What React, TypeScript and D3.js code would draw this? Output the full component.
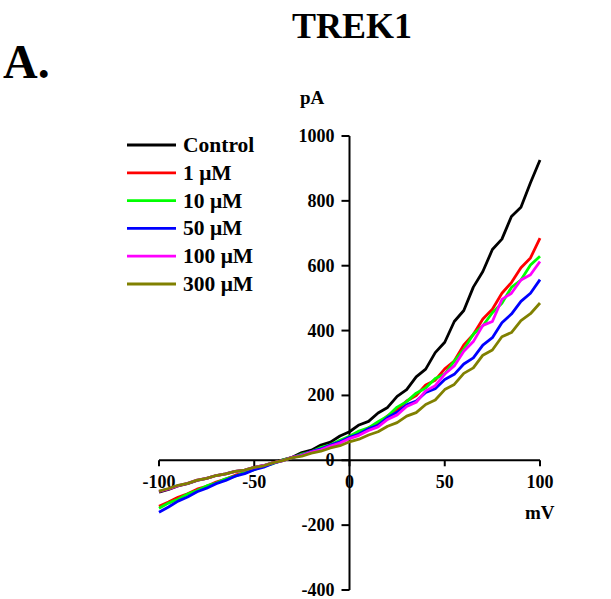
import React, { useEffect, useRef } from 'react';
import * as d3 from 'd3';

// membrane potential, mV (5 mV steps)
const voltages = d3.range(-100, 101, 5);

const seriesNames = ["Control", "1 \u03bcM", "10 \u03bcM", "50 \u03bcM", "100 \u03bcM", "300 \u03bcM"];
const seriesColors = ["#000000", "#ff0000", "#00ff00", "#0000ff", "#ff00ff", "#808000"];

// current, pA
const control = [-98, -90, -79, -72, -62, -56, -47, -42, -34, -30, -22, -16, -7, 1, 9, 24, 31, 47, 56, 75, 88, 109, 120, 146, 163, 197, 218, 257, 281, 332, 364, 428, 462, 534, 582, 650, 682, 752, 780, 856, 926];
const uM1 = [-142, -129, -114, -103, -89, -80, -67, -58, -46, -38, -27, -19, -8, 0, 9, 16, 27, 35, 48, 58, 73, 84, 100, 112, 137, 156, 183, 200, 232, 247, 282, 306, 356, 388, 436, 466, 515, 548, 594, 624, 685];
const uM10 = [-148, -132, -120, -104, -93, -79, -70, -57, -49, -37, -29, -17, -10, 1, 8, 19, 26, 39, 48, 62, 74, 90, 100, 119, 136, 164, 181, 207, 223, 252, 266, 306, 342, 389, 415, 455, 484, 533, 556, 602, 629];
const uM50 = [-160, -144, -126, -113, -97, -86, -72, -62, -49, -41, -29, -21, -9, -1, 9, 16, 27, 35, 47, 57, 71, 81, 97, 108, 132, 148, 171, 183, 209, 221, 249, 265, 297, 316, 355, 378, 424, 451, 490, 515, 557];
const uM100 = [-96, -88, -78, -71, -61, -56, -47, -42, -34, -30, -22, -16, -7, -1, 9, 15, 25, 32, 44, 53, 67, 77, 92, 103, 126, 140, 166, 179, 214, 230, 266, 291, 336, 366, 416, 428, 496, 515, 556, 572, 613];
const uM300 = [-95, -87, -77, -71, -61, -56, -47, -42, -34, -30, -22, -17, -7, -1, 8, 13, 22, 28, 38, 45, 57, 65, 78, 88, 105, 116, 136, 147, 172, 186, 218, 234, 268, 285, 324, 340, 381, 394, 431, 452, 485];

const xTicks = [-100, -50, 0, 50, 100];
const yTicks = [-400, -200, 0, 200, 400, 600, 800, 1000];

const FONT = '"Liberation Serif", "Times New Roman", Times, serif';

function App() {
  const ref = useRef<SVGSVGElement>(null);

  useEffect(() => {
    document.body.style.margin = "0";
    const svg = d3.select(ref.current);
    svg.selectAll("*").remove();

    const x = d3.scaleLinear().domain([-100, 100]).range([159, 540]);
    const y = d3.scaleLinear().domain([-400, 1000]).range([590, 136]);

    const all = [control, uM1, uM10, uM50, uM100, uM300];

    // titles
    svg.append("text")
      .attr("x", 352).attr("y", 38)
      .attr("text-anchor", "middle")
      .style("font", `bold 36px ${FONT}`)
      .text("TREK1");

    svg.append("text")
      .attr("x", 3).attr("y", 78)
      .style("font", `bold 48px ${FONT}`)
      .text("A.");

    // y axis
    const yAxis = svg.append("g").attr("transform", `translate(${x(0)},0)`);
    yAxis.append("line")
      .attr("y1", y(1000)).attr("y2", y(-400))
      .attr("stroke", "black").attr("stroke-width", 2);
    yAxis.selectAll(".yt")
      .data(yTicks)
      .enter()
      .append("line")
      .attr("x1", -8).attr("x2", 0)
      .attr("y1", d => y(d)).attr("y2", d => y(d))
      .attr("stroke", "black").attr("stroke-width", 2);
    yAxis.selectAll(".yl")
      .data(yTicks)
      .enter()
      .append("text")
      .attr("x", -15).attr("y", d => y(d))
      .attr("dy", "0.33em")
      .attr("text-anchor", "end")
      .style("font", `bold 18px ${FONT}`)
      .text(d => d);

    // x axis
    const xAxis = svg.append("g").attr("transform", `translate(0,${y(0)})`);
    xAxis.append("line")
      .attr("x1", x(-100)).attr("x2", x(100))
      .attr("stroke", "black").attr("stroke-width", 2);
    xAxis.selectAll(".xt")
      .data(xTicks)
      .enter()
      .append("line")
      .attr("x1", d => x(d)).attr("x2", d => x(d))
      .attr("y1", 0).attr("y2", 6)
      .attr("stroke", "black").attr("stroke-width", 2);
    xAxis.selectAll(".xl")
      .data(xTicks)
      .enter()
      .append("text")
      .attr("x", d => x(d)).attr("y", 28)
      .attr("text-anchor", "middle")
      .style("font", `bold 18px ${FONT}`)
      .text(d => d);

    svg.append("text")
      .attr("x", 300).attr("y", 104)
      .style("font", `bold 19px ${FONT}`)
      .text("pA");
    svg.append("text")
      .attr("x", 525).attr("y", 519)
      .style("font", `bold 19px ${FONT}`)
      .text("mV");

    // traces
    const line = d3.line<number>()
      .x((d, i) => x(voltages[i]))
      .y(d => y(d));

    svg.selectAll(".trace")
      .data(all)
      .enter()
      .append("path")
      .attr("d", d => line(d))
      .attr("fill", "none")
      .attr("stroke", (d, i) => seriesColors[i])
      .attr("stroke-width", 2.8)
      .attr("stroke-linejoin", "round");

    // legend
    const legend = svg.append("g");
    seriesNames.forEach((name, i) => {
      const ly = 145 + i * 27.8;
      legend.append("line")
        .attr("x1", 127).attr("x2", 176)
        .attr("y1", ly).attr("y2", ly)
        .attr("stroke", seriesColors[i]).attr("stroke-width", 2.8);
      legend.append("text")
        .attr("x", 183).attr("y", ly + 7)
        .style("font", `bold 21.5px ${FONT}`)
        .text(name);
    });
  }, []);

  return (
    <svg ref={ref} width={611} height={599} style={{ display: "block", background: "white" }} />
  );
}

export default App;
